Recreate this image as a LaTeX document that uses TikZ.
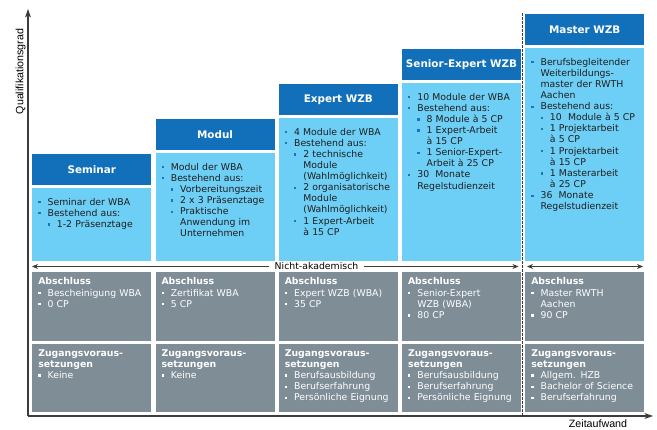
\documentclass[tikz,border=0pt]{standalone}
\usepackage{fontspec}
\setmainfont{DejaVu Sans}
\newfontfamily\axisfont{Liberation Sans}
\usetikzlibrary{arrows.meta}

\definecolor{headblue}{RGB}{17,112,185}
\definecolor{bodyblue}{RGB}{110,207,246}
\definecolor{boxgray}{RGB}{127,141,151}
\definecolor{dotblue}{RGB}{30,115,190}
\definecolor{axisgray}{RGB}{60,60,60}
\definecolor{bodytext}{RGB}{30,30,30}

\newcommand{\dotmark}{\rule[1.3pt]{1.7pt}{1.7pt}}
\newcommand{\nl}{\newline}
\newcommand{\bul}[1]{\par\hangindent=7pt\hangafter=1\noindent
  \makebox[7pt][l]{\textcolor{\dotcol}{\dotmark}}#1\par}
\newcommand{\sbul}[1]{\par\hangindent=14pt\hangafter=1\noindent
  \hspace*{7pt}\makebox[7pt][l]{\textcolor{\dotcol}{\dotmark}}#1\par}

\tikzset{
  head/.style={rectangle, fill=headblue, text=white, anchor=north west,
    minimum width=89.25pt, minimum height=23.25pt, inner sep=0pt,
    font=\fontsize{7.8}{9}\selectfont\bfseries},
  body/.style={rectangle, fill=bodyblue, anchor=north west,
    minimum width=89.25pt, inner sep=0pt},
  infobox/.style={rectangle, fill=boxgray, anchor=north west,
    minimum width=89.25pt, minimum height=51.375pt, inner sep=0pt},
  txt/.style={anchor=north west, text width=100pt, align=left,
    inner xsep=4.5pt, inner ysep=4.2pt, font=\fontsize{7}{8.35}\selectfont},
  bodytxt/.style={txt, text=bodytext, execute at begin node=\def\dotcol{dotblue}},
  infotxt/.style={txt, text=white, execute at begin node=\def\dotcol{white}},
  axtip/.tip={Stealth[length=6.5pt,width=4.5pt]},
  smalltip/.tip={Stealth[length=4.5pt,width=3.75pt]},
  axis/.style={draw=axisgray, line width=0.8pt, -{axtip}},
  span/.style={draw=axisgray, line width=0.6pt}
}

\begin{document}
\begin{tikzpicture}[x=0.75pt, y=-0.75pt]
\useasboundingbox (0,0) rectangle (657,429);

% headers
\node[head] (h1) at (32,154) {Seminar};
\node[head] (h2) at (155.25,119) {Modul};
\node[head] (h3) at (278.5,84) {Expert WZB};
\node[head] (h4) at (401.75,49) {Senior-Expert WZB};
\node[head] (h5) at (525,14) {Master WZB};

% contents
\node[body, minimum height=54.75pt] (b1) at (32,188) {};
\node[body, minimum height=81pt] (b2) at (155.25,153) {};
\node[body, minimum height=107.25pt] (b3) at (278.5,118) {};
\node[body, minimum height=133.5pt] (b4) at (401.75,83) {};
\node[body, minimum height=159.75pt] (b5) at (525,48) {};

\node[bodytxt] (b1t) at (b1.north west) {\bul{Seminar der WBA}\bul{Bestehend aus:}
  \sbul{1-2 Präsenztage}};
\node[bodytxt] (b2t) at (b2.north west) {\bul{Modul der WBA}\bul{Bestehend aus:}
  \sbul{Vorbereitungszeit}\sbul{2 x 3 Präsenztage}\sbul{Praktische\nl Anwendung im\nl Unternehmen}};
\node[bodytxt] (b3t) at (b3.north west) {\bul{4 Module der WBA}\bul{Bestehend aus:}
  \sbul{2 technische\nl Module\nl (Wahlmöglichkeit)}\sbul{2 organisatorische\nl Module\nl (Wahlmöglichkeit)}
  \sbul{1 Expert-Arbeit\nl à 15 CP}};
\node[bodytxt] (b4t) at (b4.north west) {\bul{10 Module der WBA}\bul{Bestehend aus:}
  \sbul{8 Module à 5 CP}\sbul{1 Expert-Arbeit\nl à 15 CP}\sbul{1 Senior-Expert-\nl Arbeit à 25 CP}
  \bul{30\ \ Monate\nl Regelstudienzeit}};
\node[bodytxt] (b5t) at (b5.north west) {\bul{Berufsbegleitender\nl Weiterbildungs-\nl master der RWTH\nl Aachen}
  \bul{Bestehend aus:}\sbul{10\ \ Module à 5 CP}\sbul{1 Projektarbeit\nl à 5 CP}
  \sbul{1 Projektarbeit\nl à 15 CP}\sbul{1 Masterarbeit\nl à 25 CP}\bul{36\ \ Monate\nl Regelstudienzeit}};

% Abschluss
\node[infobox] (a1) at (32,272) {};
\node[infobox] (a2) at (155.25,272) {};
\node[infobox] (a3) at (278.5,272) {};
\node[infobox] (a4) at (401.75,272) {};
\node[infobox] (a5) at (525,272) {};

\node[infotxt] (a1t) at (a1.north west) {\textbf{Abschluss}\bul{Bescheinigung WBA}\bul{0 CP}};
\node[infotxt] (a2t) at (a2.north west) {\textbf{Abschluss}\bul{Zertifikat WBA}\bul{5 CP}};
\node[infotxt] (a3t) at (a3.north west) {\textbf{Abschluss}\bul{Expert WZB (WBA)}\bul{35 CP}};
\node[infotxt] (a4t) at (a4.north west) {\textbf{Abschluss}\bul{Senior-Expert\nl WZB (WBA)}\bul{80 CP}};
\node[infotxt] (a5t) at (a5.north west) {\textbf{Abschluss}\bul{Master RWTH\nl Aachen}\bul{90 CP}};

% Zugangsvoraussetzungen
\node[infobox] (z1) at (32,343.5) {};
\node[infobox] (z2) at (155.25,343.5) {};
\node[infobox] (z3) at (278.5,343.5) {};
\node[infobox] (z4) at (401.75,343.5) {};
\node[infobox] (z5) at (525,343.5) {};

\node[infotxt] (z1t) at (z1.north west) {\textbf{Zugangsvoraus-\\setzungen}\bul{Keine}};
\node[infotxt] (z2t) at (z2.north west) {\textbf{Zugangsvoraus-\\setzungen}\bul{Keine}};
\node[infotxt] (z3t) at (z3.north west) {\textbf{Zugangsvoraus-\\setzungen}\bul{Berufsausbildung}
  \bul{Berufserfahrung}\bul{Persönliche Eignung}};
\node[infotxt] (z4t) at (z4.north west) {\textbf{Zugangsvoraus-\\setzungen}\bul{Berufsausbildung}
  \bul{Berufserfahrung}\bul{Persönliche Eignung}};
\node[infotxt] (z5t) at (z5.north west) {\textbf{Zugangsvoraus-\\setzungen}\bul{Allgem. HZB}
  \bul{Bachelor of Science}\bul{Berufserfahrung}};

% spans
\coordinate (nl) at (32,266.5);
\coordinate (nr) at (518.5,266.5);
\node[fill=white, inner xsep=4pt, inner ysep=1.5pt, font=\fontsize{7}{8}\selectfont] (na) at (316.5,266.5) {Nicht-akademisch};
\draw[span, -{smalltip}] (na.west) -- (nl);
\draw[span, -{smalltip}] (na.east) -- (nr);
\coordinate (ml) at (527,266.5);
\coordinate (mr) at (643,266.5);
\draw[span, {smalltip}-{smalltip}] (ml) -- (mr);

\coordinate (dt) at (522.7,13);
\coordinate (db) at (522.7,416);
\draw[draw=axisgray, line width=0.8pt, dash pattern=on 2pt off 1pt] (dt) -- (db);

% axes
\coordinate (o) at (28,416);
\coordinate (ytop) at (28,9);
\coordinate (xend) at (653,416);
\draw[axis] (o) -- (ytop);
\draw[axis] (o) -- (xend);
\node[rotate=90, font=\axisfont\fontsize{8}{9}\selectfont] (ql) at (20.5,71.5) {Qualifikationsgrad};
\node[font=\axisfont\fontsize{8}{9}\selectfont] (za) at (598,423.5) {Zeitaufwand};
\end{tikzpicture}
\end{document}
